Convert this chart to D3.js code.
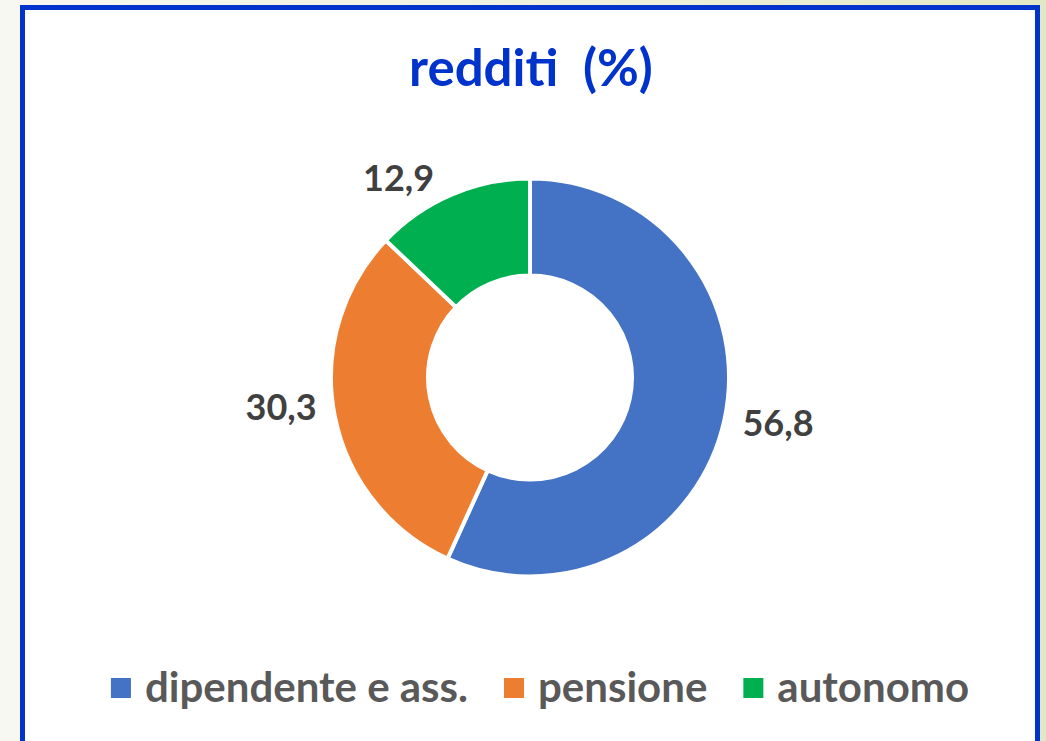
<!DOCTYPE html>
<html>
<head>
<meta charset="utf-8">
<script src="https://cdn.jsdelivr.net/npm/d3@7"></script>
<style>
  body { margin: 0; padding: 0; overflow: hidden; }
  text { font-family: "Lato", "Open Sans", sans-serif; font-weight: bold; }
</style>
</head>
<body>
<div class="chart"></div>
<script>

var categories = ["dipendente e ass.", "pensione", "autonomo"];
var values = [56.8, 30.3, 12.9];
var labels = ["56,8", "30,3", "12,9"];
var colors = ["#4472C4", "#ED7D31", "#00B050"];

var width = 1046,
    height = 741;

var cx = 530, cy = 377.5,
    outer = 199, inner = 102;

var svg = d3.select(".chart").append("svg")
    .attr("width", width)
    .attr("height", height);

// page background, slight greenish tint to the right
var grad = svg.append("defs").append("linearGradient")
    .attr("id", "bg")
    .attr("x1", "0%").attr("y1", "0%")
    .attr("x2", "100%").attr("y2", "0%");
grad.append("stop").attr("offset", "0%").attr("stop-color", "#f8f8f2");
grad.append("stop").attr("offset", "60%").attr("stop-color", "#eef0dc");
grad.append("stop").attr("offset", "100%").attr("stop-color", "#e2e8c6");

svg.append("rect")
    .attr("width", width)
    .attr("height", height)
    .attr("fill", "url(#bg)");

// framed white panel
svg.append("rect")
    .attr("x", 22.5)
    .attr("y", 7.5)
    .attr("width", 1015)
    .attr("height", 800)
    .attr("fill", "white")
    .attr("stroke", "#0033cc")
    .attr("stroke-width", 5);

svg.append("text")
    .text("redditi\u00a0\u00a0(%)")
    .attr("x", 531)
    .attr("y", 86)
    .attr("font-size", "51px")
    .attr("fill", "#0033cc")
    .style("text-anchor", "middle");

var color = d3.scaleOrdinal()
    .domain(categories)
    .range(colors);

var pie = d3.pie().sort(null);

var arc = d3.arc()
    .outerRadius(outer)
    .innerRadius(inner);

var arcs = pie(values);

var g = svg.append("g")
    .attr("transform", "translate(" + cx + "," + cy + ")");

g.selectAll(".arc")
    .data(arcs)
    .enter().append("path")
    .attr("class", "arc")
    .attr("d", arc)
    .attr("fill", function(d, i) { return color(categories[i]); })
    .attr("stroke", "white")
    .style("stroke-width", "4px");

// data labels just outside each slice
var labelR = 200, gap = 17;
g.selectAll(".lbl")
    .data(arcs)
    .enter().append("text")
    .attr("class", "lbl")
    .text(function(d, i) { return labels[i]; })
    .attr("x", function(d) {
        var a = (d.startAngle + d.endAngle) / 2;
        return labelR * Math.sin(a) + (Math.sin(a) > 0 ? gap : -gap);
    })
    .attr("y", function(d) {
        var a = (d.startAngle + d.endAngle) / 2;
        return -labelR * Math.cos(a) - Math.cos(a) * 10 + Math.sin(a) * 6 - 4;
    })
    .attr("dy", "0.35em")
    .attr("font-size", "36px")
    .attr("fill", "#404040")
    .style("text-anchor", function(d) {
        var a = (d.startAngle + d.endAngle) / 2;
        return Math.sin(a) > 0 ? "start" : "end";
    });

// legend
var legend = svg.append("g");
var items = legend.selectAll(".item")
    .data(categories)
    .enter().append("g")
    .attr("class", "item");

items.append("rect")
    .attr("width", 20)
    .attr("height", 20)
    .attr("y", 678)
    .style("fill", function(d) { return color(d); });

items.append("text")
    .text(function(d) { return d; })
    .attr("x", 34)
    .attr("y", 702)
    .attr("font-size", "42px")
    .attr("fill", "#595959");

var xpos = 0;
items.each(function() {
    var w = 34 + d3.select(this).select("text").node().getComputedTextLength();
    d3.select(this).attr("transform", "translate(" + xpos + ",0)");
    xpos += w + 36;
});
var total = xpos - 36;
legend.attr("transform", "translate(" + (540 - total / 2) + ",0)");

</script>
</body>
</html>
